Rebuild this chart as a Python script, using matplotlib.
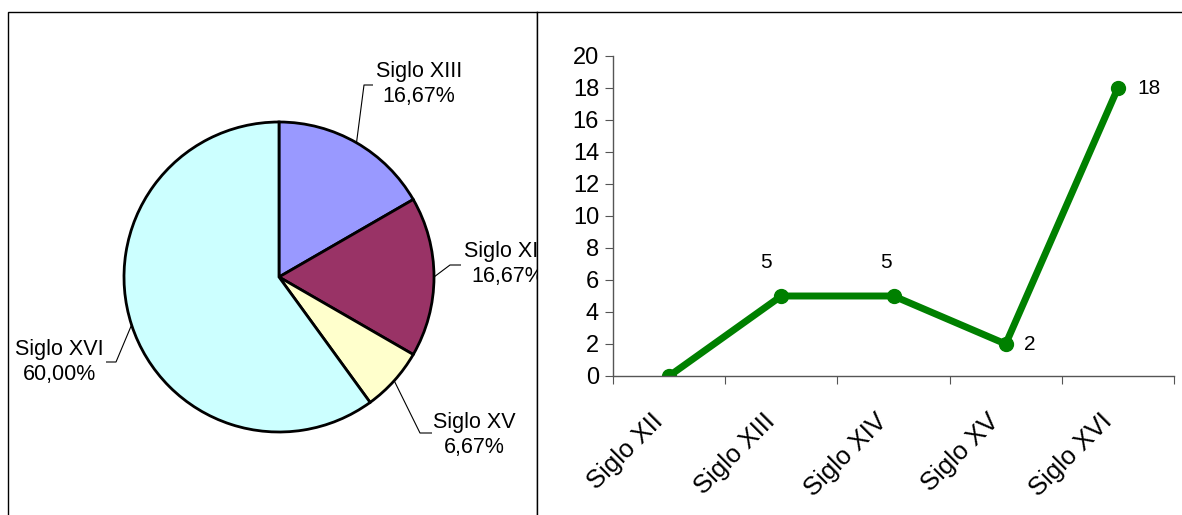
import numpy as np
import matplotlib
matplotlib.use("Agg")
import matplotlib.pyplot as plt
import matplotlib.transforms as mtransforms
from matplotlib.patches import Rectangle

plt.rcParams['font.family'] = ['Liberation Sans', 'DejaVu Sans']

# data
siglos = ["Siglo XII", "Siglo XIII", "Siglo XIV", "Siglo XV", "Siglo XVI"]
cantidad = [0, 5, 5, 2, 18]

pie_labels = ["Siglo XIII", "Siglo XIV", "Siglo XV", "Siglo XVI"]
pie_values = [5, 5, 2, 18]
pie_colors = ["#9999FF", "#993366", "#FFFFCC", "#CCFFFF"]

W, H = 1182, 515
fig = plt.figure(figsize=(W / 100, H / 100), dpi=100)

# left panel: axes in pixel units (y up)
ax_pie = fig.add_axes([0, 0, 1, 1], zorder=1)
ax_pie.axis("off")
ax_pie.add_patch(Rectangle((8, -10), 529, H - 12 + 10, fill=False,
                           edgecolor="black", lw=1))

cx, cy, r = 279, H - 277, 155
wedges, _ = ax_pie.pie(pie_values, colors=pie_colors, startangle=90,
                       counterclock=False, center=(cx, cy), radius=r,
                       wedgeprops=dict(edgecolor="black", linewidth=2))
ax_pie.set_xlim(0, W)
ax_pie.set_ylim(0, H)
ax_pie.set_aspect("auto")

total = sum(pie_values)
# label centre, elbow and end of leader line (pixels from top-left)
label_pos = [(419, 84), (508, 264), (474, 435), (59, 362)]
elbows = [((364, 85), (373, 85)), ((450, 265), (461, 265)),
          ((420, 433), (432, 433)), ((116, 362), (106, 362))]
for w, name, val, pos, (e1, e2) in zip(wedges, pie_labels, pie_values,
                                        label_pos, elbows):
    ang = np.deg2rad((w.theta1 + w.theta2) / 2)
    sx, sy = cx + r * np.cos(ang), cy + r * np.sin(ang)
    ax_pie.plot([sx, e1[0], e2[0]], [sy, H - e1[1], H - e2[1]],
                color="black", lw=0.8, solid_capstyle="butt")
    pct = f"{val / total * 100:.2f}%".replace(".", ",")
    ax_pie.text(pos[0], H - pos[1], f"{name}\n{pct}", ha="center",
                va="center", fontsize=15.5, linespacing=1.25)

# right panel background (covers clipped label)
ax_bg = fig.add_axes([537 / W, -0.1, 1, 1.1 - 12 / H], zorder=2)
ax_bg.set_xticks([])
ax_bg.set_yticks([])
for s in ax_bg.spines.values():
    s.set_linewidth(1)

# line chart
x0, x1, y0, y1 = 613, 1174, 376, 56
ax = fig.add_axes([x0 / W, (H - y0) / H, (x1 - x0) / W, (y0 - y1) / H],
                  zorder=3)
ax.patch.set_alpha(0)
xs = np.arange(len(siglos)) + 0.5
ax.plot(xs, cantidad, color="#008000", lw=5, marker="o", markersize=10,
        solid_capstyle="round")
ax.set_xlim(0, len(siglos))
ax.set_ylim(0, 20)
ax.set_yticks(range(0, 21, 2))
ax.set_xticks(range(len(siglos) + 1))
ax.set_xticklabels([])
ax.set_xticks(xs, minor=True)
ax.set_xticklabels(siglos, minor=True, rotation=45, ha="right",
                   va="center", rotation_mode="anchor", fontsize=18.5)
ax.tick_params(axis="x", which="minor", length=0, pad=30)
ax.tick_params(axis="x", which="major", length=6, direction="out",
               color="#555555")
ax.tick_params(axis="y", length=6, direction="out", color="#555555",
               labelsize=17, pad=4)
offset = mtransforms.ScaledTranslation(-10 / 100, 0, fig.dpi_scale_trans)
for lab in ax.get_xticklabels(minor=True):
    lab.set_transform(lab.get_transform() + offset)
for s in ["top", "right"]:
    ax.spines[s].set_visible(False)
for s in ["left", "bottom"]:
    ax.spines[s].set_color("#555555")
    ax.spines[s].set_linewidth(1)

# data labels
offs = [None, (-15, 33), (-8, 33), (24, 0), (31, 0)]
for xv, yv, o in zip(xs, cantidad, offs):
    if o is None:
        continue
    ax.annotate(str(yv), (xv, yv), xytext=o, textcoords="offset pixels",
                ha="center", va="center", fontsize=15)

fig.savefig("out.png", dpi=100)
